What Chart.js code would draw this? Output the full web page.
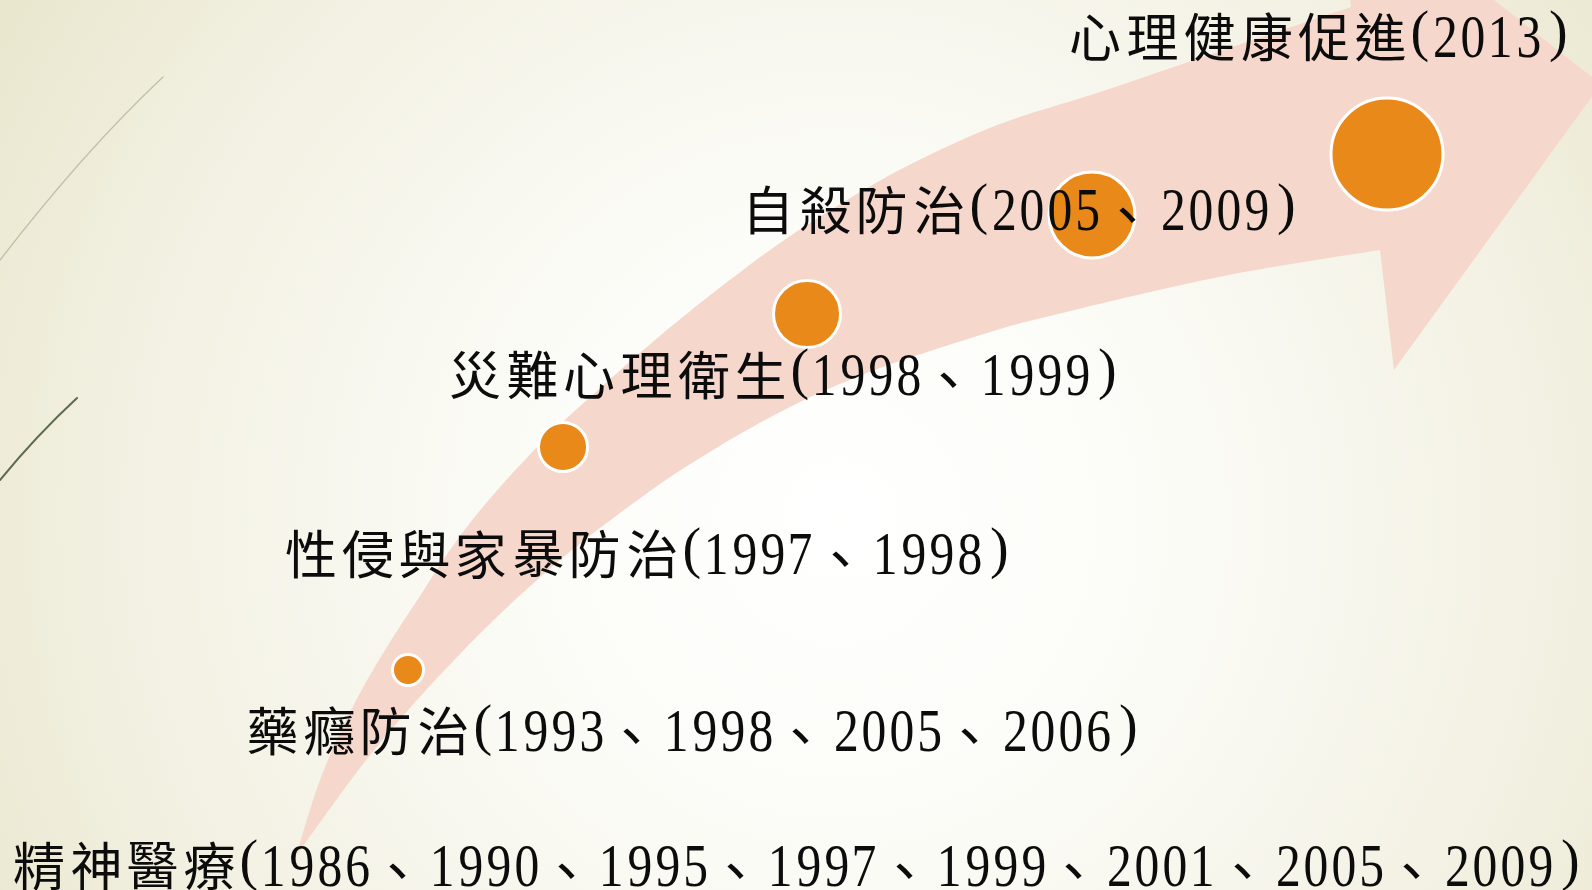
<!DOCTYPE html>
<html lang="zh-Hant">
<head>
<meta charset="utf-8">
<title>心理健康政策發展</title>
<script src="https://cdn.jsdelivr.net/npm/chart.js@4.4.1/dist/chart.umd.min.js"></script>
<style>
  html, body { margin: 0; padding: 0; overflow: hidden; background: #f4f2e4; }
  #wrap { position: relative; width: 1592px; height: 890px; }
</style>
</head>
<body>
<div id="wrap"><canvas id="timeline"></canvas></div>
<script>
// policy stages, from the bottom of the slide to the top
const stages = ['精神醫療', '藥癮防治', '性侵與家暴防治', '災難心理衛生', '自殺防治', '心理健康促進'];
const stageYears = [
  ['1986', '1990', '1995', '1997', '1999', '2001', '2005', '2009'],
  ['1993', '1998', '2005', '2006'],
  ['1997', '1998'],
  ['1998', '1999'],
  ['2005', '2009'],
  ['2013']
];

// bubbles along the arrow (axis units = slide pixels)
const bubbleX = [408, 563, 807, 1092, 1387];
const bubbleY = [670, 447, 314, 215, 154];
const bubbleSize = [15.5, 24.5, 33.5, 43, 56];

// where each label line starts and its vertical middle
const labelLayout = {
  left: [10, 244, 282, 447, 740, 1067],
  middle: [866, 731, 554, 375, 210, 37]
};

// outline of the curved arrow band
const arrowShape = {
  upper: [[296, 856], [320, 780], [350, 712], [385, 650], [420, 596], [450, 550], [487, 502],
          [543, 441], [597, 391], [655, 340], [713, 293], [780, 243], [847, 200], [913, 163],
          [1000, 124], [1100, 92], [1200, 58], [1300, 24], [1351, 7]],
  head: [[1336, -124], [1601, 84], [1394, 370], [1380, 250]],
  lower: [[1380, 250], [1250, 271], [1150, 292], [1050, 316], [1000, 329], [900, 361], [847, 381],
          [800, 402], [747, 430], [700, 458], [660, 484], [600, 528], [560, 560], [527, 589],
          [497, 617], [460, 654], [410, 708], [360, 768], [296, 856]]
};

const CJK_FONT = '52px "Noto Sans CJK TC"';
const COMMA_FONT = '56px "Noto Sans CJK TC"';
const NUM_FONT = '62px "Liberation Serif"';
const PAREN_FONT = '56px "Liberation Serif"';

function smoothThrough(ctx, pts, first) {
  if (first) ctx.moveTo(pts[0][0], pts[0][1]);
  else ctx.lineTo(pts[0][0], pts[0][1]);
  for (let i = 0; i < pts.length - 1; i++) {
    const p0 = pts[i - 1] || pts[i];
    const p1 = pts[i];
    const p2 = pts[i + 1];
    const p3 = pts[i + 2] || pts[i + 1];
    ctx.bezierCurveTo(
      p1[0] + (p2[0] - p0[0]) / 6, p1[1] + (p2[1] - p0[1]) / 6,
      p2[0] - (p3[0] - p1[0]) / 6, p2[1] - (p3[1] - p1[1]) / 6,
      p2[0], p2[1]
    );
  }
}

const slideBackground = {
  id: 'slideBackground',
  beforeDraw(chart) {
    const { ctx, width, height } = chart;
    ctx.save();
    const g = ctx.createRadialGradient(840, 520, 0, 840, 520, 1000);
    g.addColorStop(0, '#ffffff');
    g.addColorStop(0.35, '#fbfbf6');
    g.addColorStop(0.7, '#f3f1e3');
    g.addColorStop(1, '#e9e6cd');
    ctx.fillStyle = g;
    ctx.fillRect(0, 0, width, height);

    // the two thin strokes on the left edge
    ctx.lineCap = 'round';
    ctx.strokeStyle = 'rgba(150,156,132,0.55)';
    ctx.lineWidth = 1.3;
    ctx.beginPath();
    ctx.moveTo(0, 260);
    ctx.quadraticCurveTo(85, 150, 163, 77);
    ctx.stroke();

    ctx.strokeStyle = '#5b6b4d';
    ctx.lineWidth = 2;
    ctx.beginPath();
    ctx.moveTo(0, 480);
    ctx.quadraticCurveTo(36, 436, 77, 398);
    ctx.stroke();
    ctx.restore();
  }
};

const arrowBand = {
  id: 'arrowBand',
  beforeDatasetsDraw(chart) {
    const { ctx } = chart;
    const xs = chart.scales.x, ys = chart.scales.y;
    const toPx = p => [xs.getPixelForValue(p[0]), ys.getPixelForValue(p[1])];
    ctx.save();
    ctx.beginPath();
    smoothThrough(ctx, arrowShape.upper.map(toPx), true);
    arrowShape.head.map(toPx).forEach(p => ctx.lineTo(p[0], p[1]));
    smoothThrough(ctx, arrowShape.lower.map(toPx), false);
    ctx.closePath();
    ctx.fillStyle = 'rgb(246,215,204)';
    ctx.fill();
    ctx.restore();
  }
};

// cell width, horizontal squeeze and where the ink centre sits relative to the line middle
function glyphStyle(ch) {
  if (/[0-9]/.test(ch)) return { font: NUM_FONT, cell: 28, sx: 0.8, inkY: 0 };
  if (ch === '(') return { font: PAREN_FONT, cell: 22, sx: 1, inkY: -1 };
  if (ch === ')') return { font: PAREN_FONT, cell: 30, sx: 1, inkY: -1 };
  if (ch === '、') return { font: COMMA_FONT, cell: 57, sx: 1, inkY: 5, shiftX: -3 };
  return { font: CJK_FONT, cell: 57, sx: 1, inkY: 0 };
}

function drawLine(ctx, text, x0, cy) {
  let x = x0;
  ctx.textAlign = 'left';
  ctx.textBaseline = 'alphabetic';
  for (const ch of text) {
    const s = glyphStyle(ch);
    ctx.font = s.font;
    const m = ctx.measureText(ch);
    const offX = (m.actualBoundingBoxRight - m.actualBoundingBoxLeft) / 2;
    const offY = (m.actualBoundingBoxDescent - m.actualBoundingBoxAscent) / 2;
    ctx.save();
    ctx.translate(x + s.cell / 2 + (s.shiftX || 0), cy + s.inkY);
    ctx.scale(s.sx, 1);
    ctx.fillText(ch, -offX, -offY);
    ctx.restore();
    x += s.cell;
  }
}

const stageLabels = {
  id: 'stageLabels',
  afterDatasetsDraw(chart) {
    const { ctx } = chart;
    const xs = chart.scales.x, ys = chart.scales.y;
    ctx.save();
    ctx.fillStyle = '#0c0c0c';
    stages.forEach((name, i) => {
      const text = name + '(' + stageYears[i].join('、') + ')';
      drawLine(ctx, text, xs.getPixelForValue(labelLayout.left[i]), ys.getPixelForValue(labelLayout.middle[i]));
    });
    ctx.restore();
  }
};

function build() {
  new Chart(document.getElementById('timeline'), {
    type: 'bubble',
    data: {
      datasets: [{
        label: '政策推動',
        data: bubbleX.map((x, i) => ({ x: x, y: bubbleY[i], r: bubbleSize[i] })),
        backgroundColor: '#e8891a',
        borderColor: '#ffffff',
        borderWidth: 3,
        hoverRadius: 0,
        clip: false
      }]
    },
    options: {
      responsive: true,
      maintainAspectRatio: false,
      animation: false,
      events: [],
      layout: { padding: 0, autoPadding: false },
      plugins: {
        legend: { display: false },
        tooltip: { enabled: false }
      },
      scales: {
        x: { type: 'linear', min: 0, max: 1592, display: false },
        y: { type: 'linear', min: 0, max: 890, reverse: true, display: false }
      }
    },
    plugins: [slideBackground, arrowBand, stageLabels]
  });
}

Promise.all([
  document.fonts.load(CJK_FONT, '心理健康、'),
  document.fonts.load(NUM_FONT, '2013()')
]).then(build, build);
</script>
</body>
</html>
